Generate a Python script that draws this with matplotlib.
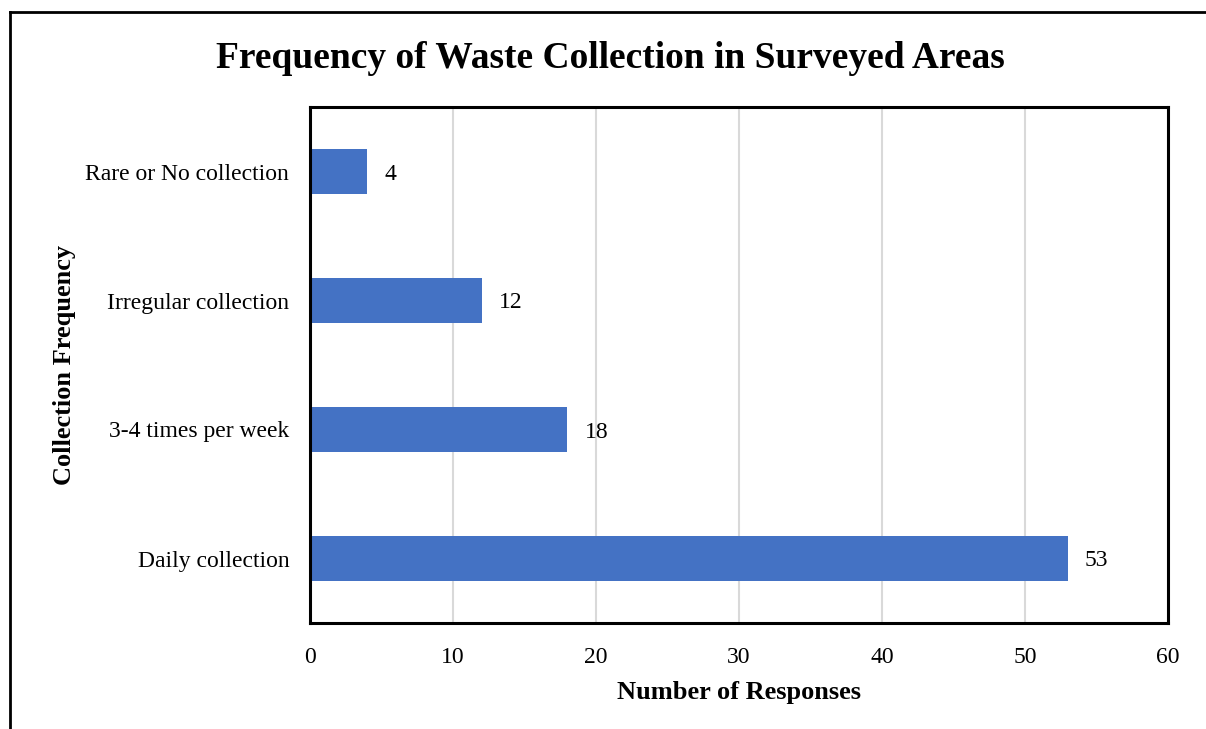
import matplotlib
matplotlib.use("Agg")
import matplotlib.pyplot as plt
from matplotlib.lines import Line2D

categories = ["Daily collection", "3-4 times per week", "Irregular collection", "Rare or No collection"]
values = [53, 18, 12, 4]
xticks = [0, 10, 20, 30, 40, 50, 60]

plt.rcParams['font.family'] = ['Liberation Serif', 'DejaVu Serif']

W, H = 1206, 729
fig = plt.figure(figsize=(W/100, H/100), dpi=100)
ax = fig.add_axes([310/W, 1 - 623/H, (1168-310)/W, (623-107)/H])

ypos = list(range(len(categories)))
ax.barh(ypos, values, height=0.35, color="#4472C4", zorder=3)
ax.set_ylim(-0.5, len(categories) - 0.5)
ax.set_xlim(0, 60)
ax.set_xticks(xticks)
ax.set_xticklabels([str(t) for t in xticks], fontsize=17)
ax.set_yticks(ypos)
ax.set_yticklabels(categories, fontsize=17)
ax.tick_params(axis='x', length=0, pad=17)
ax.tick_params(axis='y', length=0, pad=15)
ax.grid(axis='x', color="#D9D9D9", linewidth=1.5, zorder=0)
for s in ax.spines.values():
    s.set_linewidth(2.2)
    s.set_color("black")
    s.set_zorder(4)

for y, v in zip(ypos, values):
    ax.text(v + 1.2, y, str(v), va='center_baseline', ha='left', fontsize=17)

ax.set_xlabel("Number of Responses", fontsize=19, fontweight='bold', labelpad=10)
ax.set_ylabel("Collection Frequency", fontsize=19, fontweight='bold', labelpad=7)

fig.text(610/W, 1 - 59/H, "Frequency of Waste Collection in Surveyed Areas",
         ha='center', va='center', fontsize=27, fontweight='bold')

# outer border (top and left visible)
fig.add_artist(Line2D([10/W, 1.0], [1 - 12/H, 1 - 12/H], transform=fig.transFigure, color='black', lw=2))
fig.add_artist(Line2D([10/W, 10/W], [1 - 12/H, 0.0], transform=fig.transFigure, color='black', lw=2))

fig.savefig("out.png", dpi=100)
